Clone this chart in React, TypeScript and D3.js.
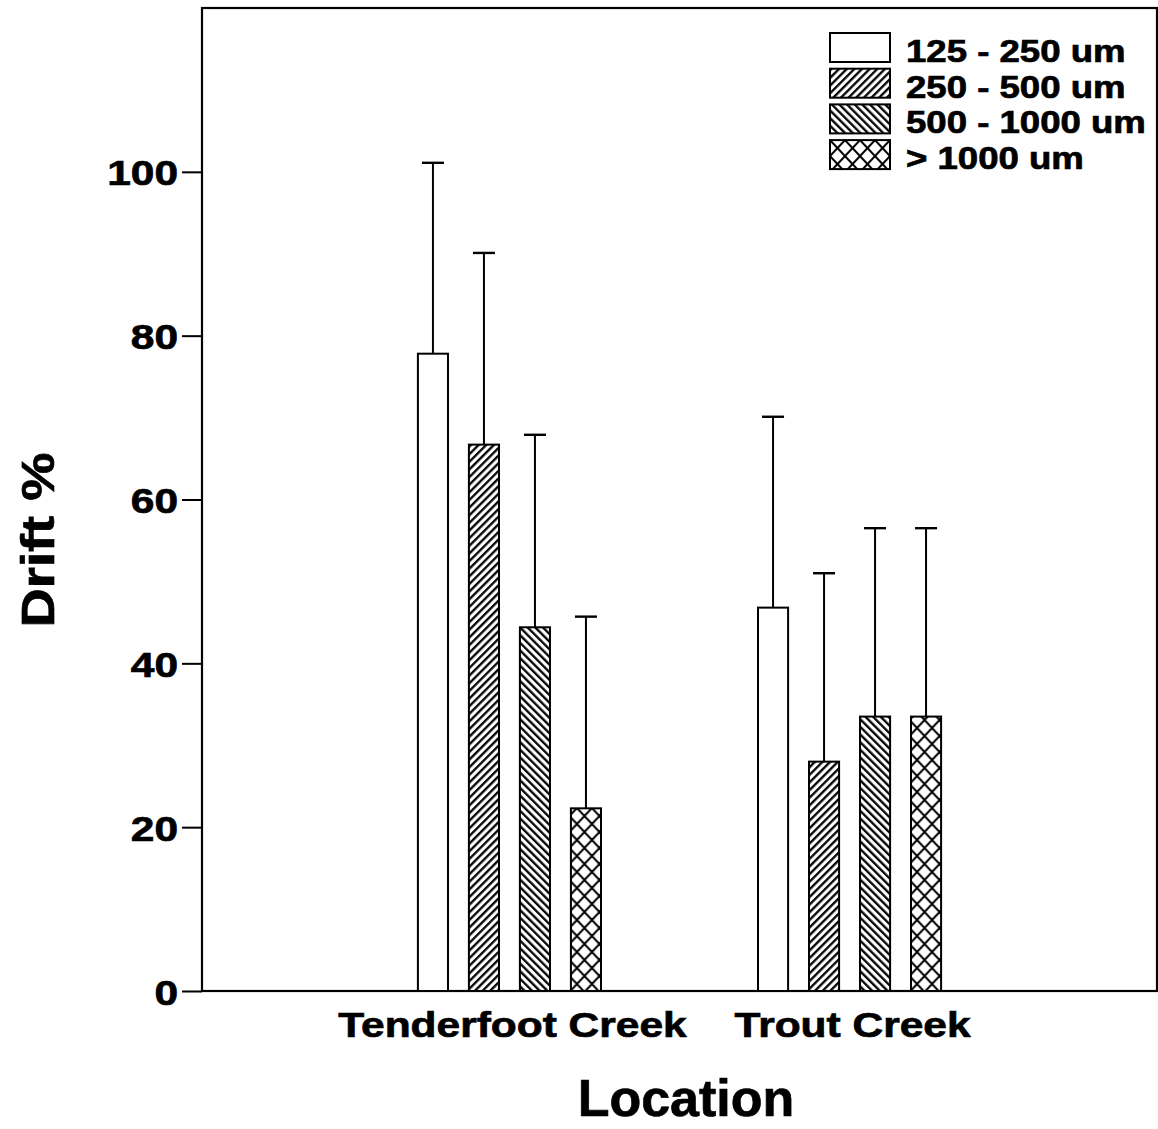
import React, { useRef, useEffect } from 'react';
import * as d3 from 'd3';

// Data
const locations = ['Tenderfoot Creek', 'Trout Creek'];
const sizeClasses = ['125 - 250 um', '250 - 500 um', '500 - 1000 um', '> 1000 um'];
const tenderfootMean = [77.8, 66.7, 44.4, 22.3];
const tenderfootUpper = [101.1, 90.1, 67.9, 45.7];
const troutMean = [46.8, 28.0, 33.5, 33.5];
const troutUpper = [70.1, 51.0, 56.5, 56.5];
const yTicks = [0, 20, 40, 60, 80, 100];

const W = 1158;
const H = 1129;
const FONT = "'Liberation Sans', Arial, Helvetica, sans-serif";
const SX = 1.18; // the scanned lettering is wider than Arial

const App: React.FC = () => {
    const svgRef = useRef<SVGSVGElement>(null);

    useEffect(() => {
        if (!svgRef.current) return;
        const svg = d3.select(svgRef.current);
        svg.selectAll('*').remove();

        const left = 202, right = 1157, top = 8, bottom = 991;

        const y = d3.scaleLinear().domain([0, 120]).range([bottom, top]);
        const x0 = d3.scalePoint<string>().domain(locations).range([left, right]).padding(0.904);
        const x1 = d3.scaleBand<string>().domain(sizeClasses).range([-102, 102])
            .paddingInner(0.41).paddingOuter(0.205);

        // patterns
        const defs = svg.append('defs');
        const hatch = (id: string, angle: number) => {
            const p = defs.append('pattern')
                .attr('id', id)
                .attr('patternUnits', 'userSpaceOnUse')
                .attr('width', 5.4).attr('height', 5.4)
                .attr('patternTransform', `rotate(${angle})`);
            p.append('rect').attr('width', 5.4).attr('height', 5.4).attr('fill', '#fff');
            p.append('line').attr('x1', 1.2).attr('x2', 1.2).attr('y1', -1).attr('y2', 7)
                .attr('stroke', '#000').attr('stroke-width', 2.3);
        };
        hatch('fwd', 45);
        hatch('bck', -45);
        const cross = defs.append('pattern')
            .attr('id', 'cross')
            .attr('patternUnits', 'userSpaceOnUse')
            .attr('width', 15).attr('height', 16);
        cross.append('rect').attr('width', 15).attr('height', 16).attr('fill', '#fff');
        cross.append('path').attr('d', 'M0,0L15,16M15,0L0,16')
            .attr('stroke', '#000').attr('stroke-width', 2);

        const fills = ['#fff', 'url(#fwd)', 'url(#bck)', 'url(#cross)'];
        const fillOf = d3.scaleOrdinal<string, string>().domain(sizeClasses).range(fills);

        // heavier lettering, like the printed original
        const bold = (t: d3.Selection<SVGTextElement, any, any, any>, size: number) =>
            t.attr('font-family', FONT).attr('font-weight', 'bold').attr('font-size', size)
                .attr('fill', '#000').attr('stroke', '#000').attr('stroke-width', 0.7);

        // frame
        svg.append('rect')
            .attr('x', left).attr('y', top)
            .attr('width', right - left).attr('height', bottom - top)
            .attr('fill', 'none').attr('stroke', '#000').attr('stroke-width', 2.2);

        // y axis
        const yAxis = d3.axisLeft(y).tickValues(yTicks).tickSize(20).tickSizeOuter(0).tickPadding(4);
        const ya = svg.append('g').attr('transform', `translate(${left},0)`).call(yAxis);
        ya.select('.domain').remove();
        ya.selectAll('line').attr('stroke', '#000').attr('stroke-width', 2);
        ya.selectAll('text').remove();
        bold(ya.selectAll('.tick').append('text')
            .attr('transform', `translate(-24,13) scale(${SX},1)`)
            .attr('text-anchor', 'end')
            .text((d: any) => d) as any, 36);

        // bars
        const rows = [
            { loc: locations[0], mean: tenderfootMean, upper: tenderfootUpper },
            { loc: locations[1], mean: troutMean, upper: troutUpper },
        ];
        rows.forEach(r => {
            const g = svg.append('g').attr('transform', `translate(${x0(r.loc)},0)`);
            sizeClasses.forEach((s, i) => {
                const bx = x1(s)!;
                const cx = bx + x1.bandwidth() / 2;
                g.append('line')
                    .attr('x1', cx).attr('x2', cx)
                    .attr('y1', y(r.mean[i])).attr('y2', y(r.upper[i]))
                    .attr('stroke', '#000').attr('stroke-width', 2);
                g.append('line')
                    .attr('x1', cx - 11).attr('x2', cx + 11)
                    .attr('y1', y(r.upper[i])).attr('y2', y(r.upper[i]))
                    .attr('stroke', '#000').attr('stroke-width', 2.4);
                g.append('rect')
                    .attr('x', bx).attr('y', y(r.mean[i]))
                    .attr('width', x1.bandwidth()).attr('height', y(0) - y(r.mean[i]))
                    .attr('fill', fillOf(s)).attr('stroke', '#000').attr('stroke-width', 2);
            });
            bold(g.append('text')
                .attr('transform', `translate(3,${bottom + 46}) scale(${SX},1)`)
                .attr('text-anchor', 'middle')
                .text(r.loc), 36);
        });

        // legend
        const lg = svg.append('g').attr('transform', 'translate(830,33)');
        sizeClasses.forEach((s, i) => {
            const row = lg.append('g').attr('transform', `translate(0,${i * 35.7})`);
            row.append('rect').attr('width', 60).attr('height', 29)
                .attr('fill', fillOf(s)).attr('stroke', '#000').attr('stroke-width', 2);
            bold(row.append('text')
                .attr('transform', `translate(76,29) scale(${SX},1)`)
                .text(s), 31);
        });

        // axis titles
        bold(svg.append('text')
            .attr('transform', `translate(686,1116)`)
            .attr('text-anchor', 'middle')
            .text('Location'), 52);
        bold(svg.append('text')
            .attr('transform', `translate(54,540) rotate(-90) scale(${SX},1)`)
            .attr('text-anchor', 'middle')
            .text('Drift %'), 46);
    }, []);

    return (
        <svg
            ref={svgRef}
            width={W}
            height={H}
            style={{ position: 'absolute', left: 0, top: 0, background: '#fff' }}
        />
    );
};

export default App;
